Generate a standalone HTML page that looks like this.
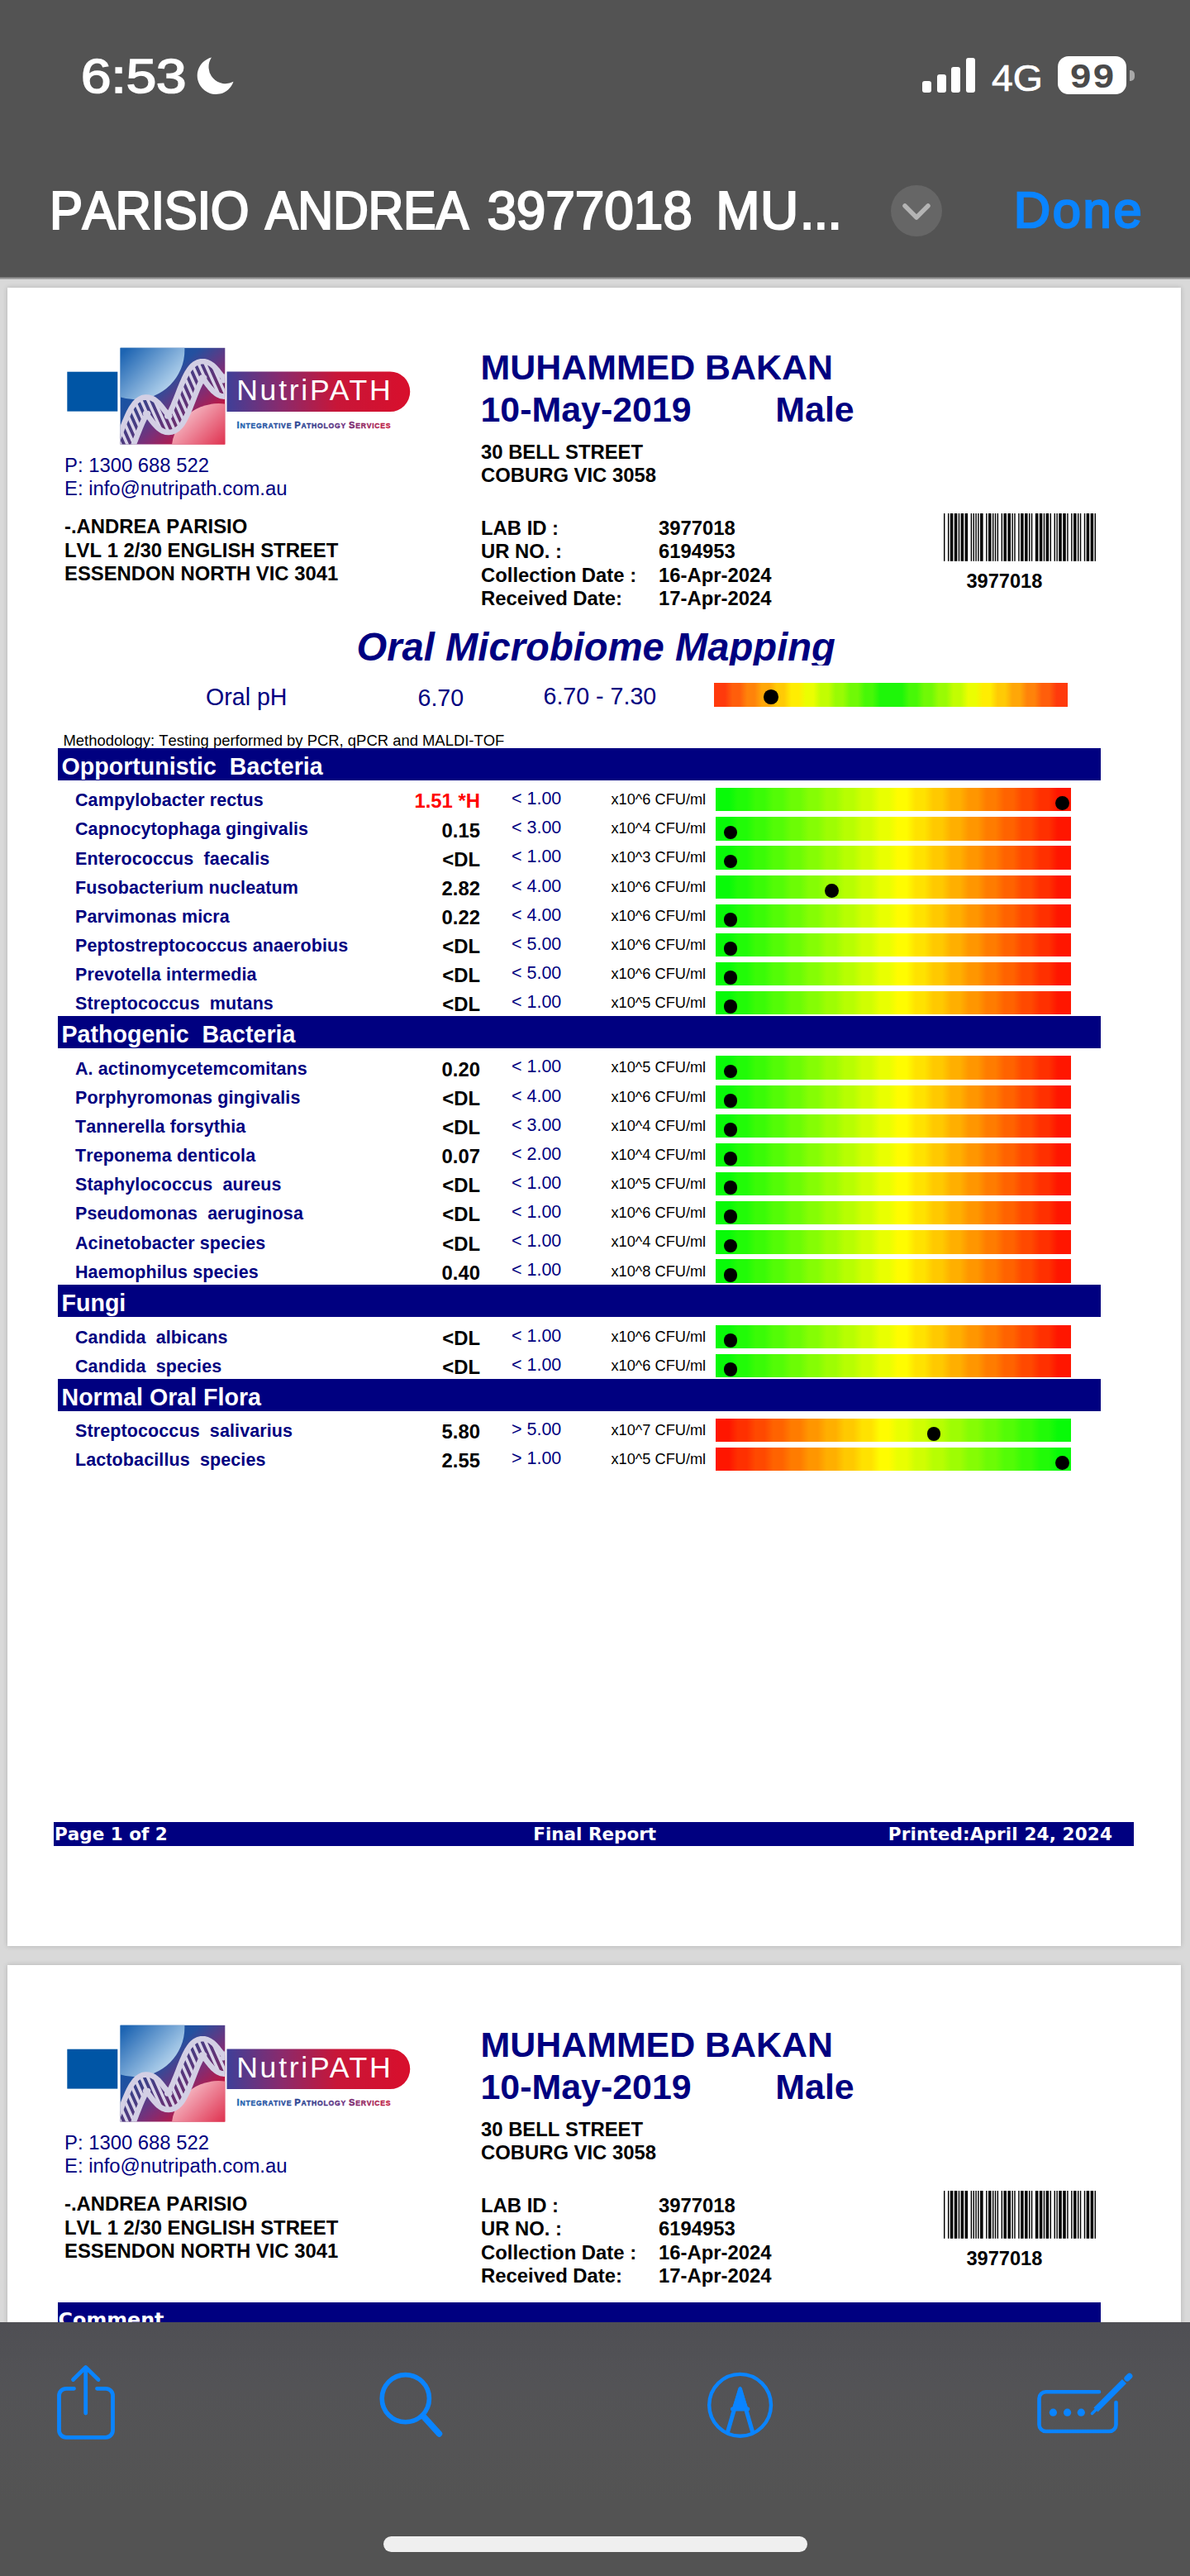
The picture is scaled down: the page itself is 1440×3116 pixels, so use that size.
<!DOCTYPE html>
<html><head><meta charset="utf-8"><title>PARISIO ANDREA 3977018</title>
<style>
html,body{margin:0;padding:0}
body{width:1440px;height:3116px;position:relative;overflow:hidden;background:#d9d9d9;font-family:"Liberation Sans",sans-serif}
.t{position:absolute;white-space:pre;line-height:1;font-kerning:none !important}
.r{position:absolute}
.g1{background:linear-gradient(90deg,#08fa08 0.00%,#08fa08 3.75%,#21fb07 6.25%,#21fb07 8.75%,#3afb06 11.25%,#3afb06 13.75%,#53fc06 16.25%,#53fc06 18.75%,#6cfc05 21.25%,#6cfc05 23.75%,#85fd04 26.25%,#85fd04 28.75%,#9efd03 31.25%,#9efd03 33.75%,#b7fe02 36.25%,#b7fe02 38.75%,#d0fe02 41.25%,#d0fe02 43.75%,#e9ff01 46.25%,#e9ff01 48.75%,#fffc00 51.25%,#fffc00 53.75%,#ffe200 56.25%,#ffe200 58.75%,#ffc900 61.25%,#ffc900 63.75%,#ffaf00 66.25%,#ffaf00 68.75%,#ff9600 71.25%,#ff9600 73.75%,#ff7c00 76.25%,#ff7c00 78.75%,#ff6300 81.25%,#ff6300 83.75%,#ff4900 86.25%,#ff4900 88.75%,#ff3000 91.25%,#ff3000 93.75%,#ff1600 96.25%,#ff1600 100.00%)}
.g2{background:linear-gradient(270deg,#08fa08 0.00%,#08fa08 3.75%,#21fb07 6.25%,#21fb07 8.75%,#3afb06 11.25%,#3afb06 13.75%,#53fc06 16.25%,#53fc06 18.75%,#6cfc05 21.25%,#6cfc05 23.75%,#85fd04 26.25%,#85fd04 28.75%,#9efd03 31.25%,#9efd03 33.75%,#b7fe02 36.25%,#b7fe02 38.75%,#d0fe02 41.25%,#d0fe02 43.75%,#e9ff01 46.25%,#e9ff01 48.75%,#fffc00 51.25%,#fffc00 53.75%,#ffe200 56.25%,#ffe200 58.75%,#ffc900 61.25%,#ffc900 63.75%,#ffaf00 66.25%,#ffaf00 68.75%,#ff9600 71.25%,#ff9600 73.75%,#ff7c00 76.25%,#ff7c00 78.75%,#ff6300 81.25%,#ff6300 83.75%,#ff4900 86.25%,#ff4900 88.75%,#ff3000 91.25%,#ff3000 93.75%,#ff1600 96.25%,#ff1600 100.00%)}
.gp{background:linear-gradient(90deg,#ff3a0c 0.00%,#ff3a0c 3.12%,#ff5e0b 5.21%,#ff5e0b 7.29%,#ff830a 9.38%,#ff830a 11.46%,#ffa708 13.54%,#ffa708 15.62%,#ffca05 17.71%,#ffca05 19.79%,#ffed02 21.88%,#ffed02 23.96%,#ebfe01 26.04%,#ebfe01 28.12%,#c2fd02 30.21%,#c2fd02 32.29%,#99fb04 34.38%,#99fb04 36.46%,#70f906 38.54%,#70f906 40.62%,#47f807 42.71%,#47f807 44.79%,#1ef609 46.88%,#1ef609 48.96%,#1ef609 51.04%,#1ef609 53.12%,#47f807 55.21%,#47f807 57.29%,#70f906 59.38%,#70f906 61.46%,#99fb04 63.54%,#99fb04 65.62%,#c2fd02 67.71%,#c2fd02 69.79%,#ebfe01 71.88%,#ebfe01 73.96%,#ffed02 76.04%,#ffed02 78.12%,#ffca05 80.21%,#ffca05 82.29%,#ffa708 84.38%,#ffa708 86.46%,#ff830a 88.54%,#ff830a 90.62%,#ff5e0b 92.71%,#ff5e0b 94.79%,#ff3a0c 96.88%,#ff3a0c 100.00%)}
.bar{left:866.2px;width:429.4px;height:28.3px}
.sec{position:absolute;left:70px;width:1261.6px;height:39px;background:#000080;overflow:hidden}
.st{left:4.5px;top:8.2px;font:bold 28.6px/1 'Liberation Sans',sans-serif;color:#fff}
.page{position:absolute;left:9px;width:1420px;background:#fff;box-shadow:0 0 6px rgba(0,0,0,.18)}
</style></head><body>
<div class="page" style="top:348px;height:2006px"></div>
<div class="page" style="top:2377px;height:760px"></div>
<div class="r" style="left:0;top:0px;width:0;height:0">
<svg class="r" style="left:78px;top:418px" width="424" height="124" viewBox="78 418 424 124">
<defs>
<linearGradient id="gsq" x1="0" y1="0" x2="1" y2="1"><stop offset="0" stop-color="#0055a8"/><stop offset=".38" stop-color="#24509f"/><stop offset=".6" stop-color="#7a2f78"/><stop offset=".8" stop-color="#c4153f"/><stop offset="1" stop-color="#d80f2c"/></linearGradient>
<linearGradient id="gpill" x1="0" y1="0" x2="1" y2="0"><stop offset="0" stop-color="#3f3f98"/><stop offset=".3" stop-color="#8a2a6c"/><stop offset=".6" stop-color="#c81638"/><stop offset="1" stop-color="#d80f2c"/></linearGradient>
<linearGradient id="gtxt" gradientUnits="userSpaceOnUse" x1="287" y1="0" x2="472" y2="0"><stop offset="0" stop-color="#1f5fae"/><stop offset=".45" stop-color="#2b3d8e"/><stop offset=".7" stop-color="#6a2c7c"/><stop offset="1" stop-color="#c21a3c"/></linearGradient>
<linearGradient id="gb" x1="0" y1="0" x2="1" y2="1"><stop offset="0" stop-color="#0a58aa"/><stop offset=".45" stop-color="#1d64b2"/><stop offset=".8" stop-color="#9cc2e4"/><stop offset="1" stop-color="#e4f0fa"/></linearGradient>
<linearGradient id="gr" x1="0" y1="0" x2="1" y2="1"><stop offset="0" stop-color="#fbe4e8"/><stop offset=".25" stop-color="#ee8a9c"/><stop offset=".55" stop-color="#dc2040"/><stop offset="1" stop-color="#d40c2a"/></linearGradient>
<clipPath id="clobe"><path d="M134.6 566.3 L137.4 566.4 L141.3 565.5 L144.8 563.8 L147.6 561.7 L150.0 559.2 L152.1 556.6 L154.0 553.7 L155.8 550.6 L157.5 547.3 L159.1 543.8 L160.7 540.1 L162.3 536.4 L163.8 532.5 L165.3 528.6 L166.8 524.8 L168.3 521.0 L169.8 517.3 L171.2 513.9 L172.6 510.7 L174.0 507.8 L175.3 505.3 L176.5 503.2 L177.5 501.6 L178.4 500.6 L178.9 500.1 L178.9 500.1 L178.4 500.3 L177.4 500.4 L176.5 500.4 L176.0 500.2 L176.0 500.3 L176.6 500.7 L177.4 501.5 L178.5 502.7 L179.8 504.1 L181.1 505.8 L182.6 507.7 L184.1 509.7 L185.7 511.8 L187.5 513.8 L189.4 515.9 L191.5 517.9 L193.9 519.7 L196.7 521.4 L200.2 522.6 L204.1 523.0 L208.1 522.5 L211.7 521.1 L214.7 519.1 L217.3 516.7 L219.5 514.1 L221.4 511.3 L223.2 508.3 L224.9 505.0 L226.6 501.6 L228.2 498.0 L229.8 494.2 L231.3 490.4 L232.8 486.5 L234.3 482.7 L235.8 478.8 L237.3 475.1 L238.7 471.6 L240.1 468.3 L241.5 465.3 L242.8 462.7 L244.1 460.5 L245.2 458.7 L246.1 457.5 L246.8 456.8 L247.0 456.6 L246.6 456.8 L245.7 457.0 L244.7 457.0 L244.1 456.9 L244.0 456.8 L244.4 457.1 L245.1 457.8 L246.1 458.9 L247.3 460.2 L248.7 461.9 L250.1 463.7 L251.6 465.7 L253.2 467.7 L254.9 469.8 L256.7 471.8 L258.7 473.8 L261.0 475.7 L263.7 477.5 L267.0 478.9 L270.7 479.6 L274.8 479.4 L278.5 478.3 L281.8 476.4 L284.5 474.1 L286.8 471.6 L288.8 468.9 L290.6 465.9 L292.4 462.7 L294.0 459.5 L276.0 450.7 L274.6 453.5 L273.4 455.8 L272.2 457.7 L271.2 459.0 L270.5 459.8 L270.2 460.1 L270.5 460.0 L271.2 459.7 L272.3 459.7 L273.0 459.8 L273.3 459.9 L273.0 459.7 L272.3 459.1 L271.3 458.1 L270.1 456.8 L268.8 455.2 L267.4 453.4 L265.9 451.5 L264.3 449.4 L262.7 447.4 L260.9 445.3 L258.9 443.3 L256.6 441.4 L254.0 439.6 L250.9 438.1 L247.3 437.2 L243.3 437.2 L239.4 438.2 L236.0 439.9 L233.2 442.1 L230.9 444.6 L228.8 447.3 L226.9 450.2 L225.2 453.3 L223.5 456.7 L221.9 460.2 L220.3 463.9 L218.7 467.7 L217.2 471.5 L215.7 475.4 L214.2 479.3 L212.7 483.0 L211.2 486.6 L209.8 490.1 L208.4 493.2 L207.1 496.0 L205.8 498.5 L204.6 500.5 L203.5 502.0 L202.7 503.0 L202.3 503.4 L202.3 503.4 L202.9 503.2 L203.9 503.0 L204.8 503.1 L205.3 503.3 L205.1 503.2 L204.5 502.7 L203.6 501.9 L202.5 500.6 L201.3 499.1 L199.9 497.4 L198.4 495.5 L196.9 493.5 L195.2 491.4 L193.5 489.4 L191.6 487.3 L189.4 485.4 L187.0 483.5 L184.0 481.9 L180.5 480.8 L176.6 480.5 L172.6 481.1 L169.1 482.7 L166.1 484.7 L163.6 487.1 L161.5 489.8 L159.5 492.6 L157.7 495.7 L156.0 498.9 L154.4 502.4 L152.8 506.0 L151.2 509.8 L149.7 513.6 L148.2 517.5 L146.7 521.4 L145.2 525.2 L143.7 528.8 L142.3 532.3 L140.9 535.6 L139.5 538.5 L138.2 541.1 L137.0 543.3 L135.9 545.0 L135.0 546.1 L134.4 546.7 L134.2 546.9 L134.7 546.7 L135.6 546.5 L135.4 546.4Z"/></clipPath>
<clipPath id="csq"><rect x="145.6" y="420.8" width="126.7" height="116.7"/></clipPath>
</defs>
<g id="lg">
<rect x="81.3" y="449.7" width="61" height="47.9" fill="#0055a5"/>
<rect x="145.6" y="420.8" width="126.7" height="116.7" fill="url(#gsq)"/>
<g clip-path="url(#csq)">
<circle cx="163.6" cy="423.4" r="59.8" fill="url(#gb)"/>
<circle cx="264.5" cy="545" r="57" fill="url(#gr)"/>
<path d="M134.6 566.3 L137.4 566.4 L141.3 565.5 L144.8 563.8 L147.6 561.7 L150.0 559.2 L152.1 556.6 L154.0 553.7 L155.8 550.6 L157.5 547.3 L159.1 543.8 L160.7 540.1 L162.3 536.4 L163.8 532.5 L165.3 528.6 L166.8 524.8 L168.3 521.0 L169.8 517.3 L171.2 513.9 L172.6 510.7 L174.0 507.8 L175.3 505.3 L176.5 503.2 L177.5 501.6 L178.4 500.6 L178.9 500.1 L178.9 500.1 L178.4 500.3 L177.4 500.4 L176.5 500.4 L176.0 500.2 L176.0 500.3 L176.6 500.7 L177.4 501.5 L178.5 502.7 L179.8 504.1 L181.1 505.8 L182.6 507.7 L184.1 509.7 L185.7 511.8 L187.5 513.8 L189.4 515.9 L191.5 517.9 L193.9 519.7 L196.7 521.4 L200.2 522.6 L204.1 523.0 L208.1 522.5 L211.7 521.1 L214.7 519.1 L217.3 516.7 L219.5 514.1 L221.4 511.3 L223.2 508.3 L224.9 505.0 L226.6 501.6 L228.2 498.0 L229.8 494.2 L231.3 490.4 L232.8 486.5 L234.3 482.7 L235.8 478.8 L237.3 475.1 L238.7 471.6 L240.1 468.3 L241.5 465.3 L242.8 462.7 L244.1 460.5 L245.2 458.7 L246.1 457.5 L246.8 456.8 L247.0 456.6 L246.6 456.8 L245.7 457.0 L244.7 457.0 L244.1 456.9 L244.0 456.8 L244.4 457.1 L245.1 457.8 L246.1 458.9 L247.3 460.2 L248.7 461.9 L250.1 463.7 L251.6 465.7 L253.2 467.7 L254.9 469.8 L256.7 471.8 L258.7 473.8 L261.0 475.7 L263.7 477.5 L267.0 478.9 L270.7 479.6 L274.8 479.4 L278.5 478.3 L281.8 476.4 L284.5 474.1 L286.8 471.6 L288.8 468.9 L290.6 465.9 L292.4 462.7 L294.0 459.5 L276.0 450.7 L274.6 453.5 L273.4 455.8 L272.2 457.7 L271.2 459.0 L270.5 459.8 L270.2 460.1 L270.5 460.0 L271.2 459.7 L272.3 459.7 L273.0 459.8 L273.3 459.9 L273.0 459.7 L272.3 459.1 L271.3 458.1 L270.1 456.8 L268.8 455.2 L267.4 453.4 L265.9 451.5 L264.3 449.4 L262.7 447.4 L260.9 445.3 L258.9 443.3 L256.6 441.4 L254.0 439.6 L250.9 438.1 L247.3 437.2 L243.3 437.2 L239.4 438.2 L236.0 439.9 L233.2 442.1 L230.9 444.6 L228.8 447.3 L226.9 450.2 L225.2 453.3 L223.5 456.7 L221.9 460.2 L220.3 463.9 L218.7 467.7 L217.2 471.5 L215.7 475.4 L214.2 479.3 L212.7 483.0 L211.2 486.6 L209.8 490.1 L208.4 493.2 L207.1 496.0 L205.8 498.5 L204.6 500.5 L203.5 502.0 L202.7 503.0 L202.3 503.4 L202.3 503.4 L202.9 503.2 L203.9 503.0 L204.8 503.1 L205.3 503.3 L205.1 503.2 L204.5 502.7 L203.6 501.9 L202.5 500.6 L201.3 499.1 L199.9 497.4 L198.4 495.5 L196.9 493.5 L195.2 491.4 L193.5 489.4 L191.6 487.3 L189.4 485.4 L187.0 483.5 L184.0 481.9 L180.5 480.8 L176.6 480.5 L172.6 481.1 L169.1 482.7 L166.1 484.7 L163.6 487.1 L161.5 489.8 L159.5 492.6 L157.7 495.7 L156.0 498.9 L154.4 502.4 L152.8 506.0 L151.2 509.8 L149.7 513.6 L148.2 517.5 L146.7 521.4 L145.2 525.2 L143.7 528.8 L142.3 532.3 L140.9 535.6 L139.5 538.5 L138.2 541.1 L137.0 543.3 L135.9 545.0 L135.0 546.1 L134.4 546.7 L134.2 546.9 L134.7 546.7 L135.6 546.5 L135.4 546.4Z" fill="#4a3678" opacity=".55"/>
<path d="M430.6 249.0L528.2 468.2M423.8 252.0L521.5 471.2M417.1 255.0L514.7 474.3M410.3 258.0L507.9 477.3M403.6 261.0L501.2 480.3M396.8 264.0L494.4 483.3M390.0 267.0L487.7 486.3M383.3 270.0L480.9 489.3M376.5 273.1L474.1 492.3M369.8 276.1L467.4 495.3M363.0 279.1L460.6 498.3M356.2 282.1L453.9 501.3M349.5 285.1L447.1 504.3M342.7 288.1L440.3 507.4M336.0 291.1L433.6 510.4M329.2 294.1L426.8 513.4M322.4 297.1L420.1 516.4M315.7 300.1L413.3 519.4M308.9 303.2L406.5 522.4M302.2 306.2L399.8 525.4M295.4 309.2L393.0 528.4M288.6 312.2L386.3 531.4M281.9 315.2L379.5 534.4M275.1 318.2L372.7 537.5M268.4 321.2L366.0 540.5M261.6 324.2L359.2 543.5M254.8 327.2L352.5 546.5M248.1 330.2L345.7 549.5M241.3 333.3L338.9 552.5M234.6 336.3L332.2 555.5M227.8 339.3L325.4 558.5M221.0 342.3L318.7 561.5M214.3 345.3L311.9 564.5M207.5 348.3L305.1 567.6M200.8 351.3L298.4 570.6M194.0 354.3L291.6 573.6M187.2 357.3L284.8 576.6M180.5 360.3L278.1 579.6M173.7 363.4L271.3 582.6M167.0 366.4L264.6 585.6M160.2 369.4L257.8 588.6M153.4 372.4L251.0 591.6M146.7 375.4L244.3 594.6M139.9 378.4L237.5 597.7M133.2 381.4L230.8 600.7M126.4 384.4L224.0 603.7M119.6 387.4L217.2 606.7M112.9 390.4L210.5 609.7M106.1 393.5L203.7 612.7M99.3 396.5L197.0 615.7M92.6 399.5L190.2 618.7M85.8 402.5L183.4 621.7M79.1 405.5L176.7 624.7M72.3 408.5L169.9 627.8M65.5 411.5L163.2 630.8M58.8 414.5L156.4 633.8M52.0 417.5L149.6 636.8M45.3 420.5L142.9 639.8M38.5 423.6L136.1 642.8M31.7 426.6L129.4 645.8M25.0 429.6L122.6 648.8M18.2 432.6L115.8 651.8M11.5 435.6L109.1 654.8M4.7 438.6L102.3 657.9M-2.1 441.6L95.6 660.9M-8.8 444.6L88.8 663.9M-15.6 447.6L82.0 666.9M-22.3 450.6L75.3 669.9M-29.1 453.7L68.5 672.9M-35.9 456.7L61.8 675.9M-42.6 459.7L55.0 678.9M-49.4 462.7L48.2 681.9M-56.1 465.7L41.5 684.9M-62.9 468.7L34.7 688.0M-69.7 471.7L28.0 691.0M-76.4 474.7L21.2 694.0M-83.2 477.7L14.4 697.0M-89.9 480.7L7.7 700.0M-96.7 483.7L0.9 703.0M-103.5 486.8L-5.8 706.0" stroke="#d9d4e8" stroke-width="3.6" fill="none" clip-path="url(#clobe)"/>
<path d="M134.6 566.3 L137.4 566.4 L141.3 565.5 L144.8 563.8 L147.6 561.7 L150.0 559.2 L152.1 556.6 L154.0 553.7 L155.8 550.6 L157.5 547.3 L159.1 543.8 L160.7 540.1 L162.3 536.4 L163.8 532.5 L165.3 528.6 L166.8 524.8 L168.3 521.0 L169.8 517.3 L171.2 513.9 L172.6 510.7 L174.0 507.8 L175.3 505.3 L176.5 503.2 L177.5 501.6 L178.4 500.6 L178.9 500.1 L178.9 500.1 L178.4 500.3 L177.4 500.4 L176.5 500.4 L176.0 500.2 L176.0 500.3 L176.6 500.7 L177.4 501.5 L178.5 502.7 L179.8 504.1 L181.1 505.8 L182.6 507.7 L184.1 509.7 L185.7 511.8 L187.5 513.8 L189.4 515.9 L191.5 517.9 L193.9 519.7 L196.7 521.4 L200.2 522.6 L204.1 523.0 L208.1 522.5 L211.7 521.1 L214.7 519.1 L217.3 516.7 L219.5 514.1 L221.4 511.3 L223.2 508.3 L224.9 505.0 L226.6 501.6 L228.2 498.0 L229.8 494.2 L231.3 490.4 L232.8 486.5 L234.3 482.7 L235.8 478.8 L237.3 475.1 L238.7 471.6 L240.1 468.3 L241.5 465.3 L242.8 462.7 L244.1 460.5 L245.2 458.7 L246.1 457.5 L246.8 456.8 L247.0 456.6 L246.6 456.8 L245.7 457.0 L244.7 457.0 L244.1 456.9 L244.0 456.8 L244.4 457.1 L245.1 457.8 L246.1 458.9 L247.3 460.2 L248.7 461.9 L250.1 463.7 L251.6 465.7 L253.2 467.7 L254.9 469.8 L256.7 471.8 L258.7 473.8 L261.0 475.7 L263.7 477.5 L267.0 478.9 L270.7 479.6 L274.8 479.4 L278.5 478.3 L281.8 476.4 L284.5 474.1 L286.8 471.6 L288.8 468.9 L290.6 465.9 L292.4 462.7 L294.0 459.5" stroke="#d3cfe4" stroke-width="6.6" fill="none" stroke-linejoin="round"/>
<path d="M135.4 546.4 L135.6 546.5 L134.7 546.7 L134.2 546.9 L134.4 546.7 L135.0 546.1 L135.9 545.0 L137.0 543.3 L138.2 541.1 L139.5 538.5 L140.9 535.6 L142.3 532.3 L143.7 528.8 L145.2 525.2 L146.7 521.4 L148.2 517.5 L149.7 513.6 L151.2 509.8 L152.8 506.0 L154.4 502.4 L156.0 498.9 L157.7 495.7 L159.5 492.6 L161.5 489.8 L163.6 487.1 L166.1 484.7 L169.1 482.7 L172.6 481.1 L176.6 480.5 L180.5 480.8 L184.0 481.9 L187.0 483.5 L189.4 485.4 L191.6 487.3 L193.5 489.4 L195.2 491.4 L196.9 493.5 L198.4 495.5 L199.9 497.4 L201.3 499.1 L202.5 500.6 L203.6 501.9 L204.5 502.7 L205.1 503.2 L205.3 503.3 L204.8 503.1 L203.9 503.0 L202.9 503.2 L202.3 503.4 L202.3 503.4 L202.7 503.0 L203.5 502.0 L204.6 500.5 L205.8 498.5 L207.1 496.0 L208.4 493.2 L209.8 490.1 L211.2 486.6 L212.7 483.0 L214.2 479.3 L215.7 475.4 L217.2 471.5 L218.7 467.7 L220.3 463.9 L221.9 460.2 L223.5 456.7 L225.2 453.3 L226.9 450.2 L228.8 447.3 L230.9 444.6 L233.2 442.1 L236.0 439.9 L239.4 438.2 L243.3 437.2 L247.3 437.2 L250.9 438.1 L254.0 439.6 L256.6 441.4 L258.9 443.3 L260.9 445.3 L262.7 447.4 L264.3 449.4 L265.9 451.5 L267.4 453.4 L268.8 455.2 L270.1 456.8 L271.3 458.1 L272.3 459.1 L273.0 459.7 L273.3 459.9 L273.0 459.8 L272.3 459.7 L271.2 459.7 L270.5 460.0 L270.2 460.1 L270.5 459.8 L271.2 459.0 L272.2 457.7 L273.4 455.8 L274.6 453.5 L276.0 450.7" stroke="#d3cfe4" stroke-width="6.6" fill="none" stroke-linejoin="round"/>
</g>
<path d="M274.5 449.5H472a24.25 24.25 0 0 1 0 48.5H274.5z" fill="url(#gpill)"/>
<text x="286.2" y="484.4" font-family="Liberation Sans,sans-serif" font-size="35.6" fill="#fff" textLength="186.5" lengthAdjust="spacing">NutriPATH</text>
<text x="286.6" y="518.1" font-family="Liberation Sans,sans-serif" font-weight="bold" font-size="8.6" fill="url(#gtxt)" stroke="url(#gtxt)" stroke-width=".35" textLength="186" lengthAdjust="spacing"><tspan font-size="11.2">I</tspan>NTEGRATIVE <tspan font-size="11.2">P</tspan>ATHOLOGY <tspan font-size="11.2">S</tspan>ERVICES</text>
</g>
</svg>
</div>
<div class="t" style="top:550.81px;font:23.85px/1 'Liberation Sans',sans-serif;color:#000080;left:78.00px;">P: 1300 688 522</div>
<div class="t" style="top:578.81px;font:23.85px/1 'Liberation Sans',sans-serif;color:#000080;left:78.00px;">E: info@nutripath.com.au</div>
<div class="t" style="top:624.81px;font:bold 23.85px/1 'Liberation Sans',sans-serif;color:#000;left:78.00px;">-.ANDREA PARISIO</div>
<div class="t" style="top:653.51px;font:bold 23.85px/1 'Liberation Sans',sans-serif;color:#000;left:78.00px;">LVL 1 2/30 ENGLISH STREET</div>
<div class="t" style="top:682.21px;font:bold 23.85px/1 'Liberation Sans',sans-serif;color:#000;left:78.00px;">ESSENDON NORTH VIC 3041</div>
<div class="t" style="top:422.89px;font:bold 42.90px/1 'Liberation Sans',sans-serif;color:#000080;left:581.50px;">MUHAMMED BAKAN</div>
<div class="t" style="top:474.49px;font:bold 42.90px/1 'Liberation Sans',sans-serif;color:#000080;left:581.50px;">10-May-2019</div>
<div class="t" style="top:474.49px;font:bold 42.90px/1 'Liberation Sans',sans-serif;color:#000080;left:938.30px;">Male</div>
<div class="t" style="top:534.81px;font:bold 23.85px/1 'Liberation Sans',sans-serif;color:#000;left:582.00px;">30 BELL STREET</div>
<div class="t" style="top:562.61px;font:bold 23.85px/1 'Liberation Sans',sans-serif;color:#000;left:582.00px;">COBURG VIC 3058</div>
<div class="t" style="top:626.61px;font:bold 23.85px/1 'Liberation Sans',sans-serif;color:#000;left:582.00px;">LAB ID :</div>
<div class="t" style="top:626.61px;font:bold 23.85px/1 'Liberation Sans',sans-serif;color:#000;left:797.00px;">3977018</div>
<div class="t" style="top:655.21px;font:bold 23.85px/1 'Liberation Sans',sans-serif;color:#000;left:582.00px;">UR NO. :</div>
<div class="t" style="top:655.21px;font:bold 23.85px/1 'Liberation Sans',sans-serif;color:#000;left:797.00px;">6194953</div>
<div class="t" style="top:683.81px;font:bold 23.85px/1 'Liberation Sans',sans-serif;color:#000;left:582.00px;">Collection Date :</div>
<div class="t" style="top:683.81px;font:bold 23.85px/1 'Liberation Sans',sans-serif;color:#000;left:797.00px;">16-Apr-2024</div>
<div class="t" style="top:712.41px;font:bold 23.85px/1 'Liberation Sans',sans-serif;color:#000;left:582.00px;">Received Date:</div>
<div class="t" style="top:712.41px;font:bold 23.85px/1 'Liberation Sans',sans-serif;color:#000;left:797.00px;">17-Apr-2024</div>
<svg class="r" style="left:1141.80px;top:621.20px" width="184.00" height="57.80" fill="#000"><rect x="0.00" y="0" width="1.42" height="57.80"/><rect x="4.97" y="0" width="1.42" height="57.80"/><rect x="7.81" y="0" width="3.55" height="57.80"/><rect x="12.79" y="0" width="3.55" height="57.80"/><rect x="17.76" y="0" width="1.42" height="57.80"/><rect x="20.60" y="0" width="3.55" height="57.80"/><rect x="25.58" y="0" width="3.55" height="57.80"/><rect x="32.68" y="0" width="1.42" height="57.80"/><rect x="35.52" y="0" width="1.42" height="57.80"/><rect x="38.36" y="0" width="1.42" height="57.80"/><rect x="41.20" y="0" width="1.42" height="57.80"/><rect x="44.05" y="0" width="3.55" height="57.80"/><rect x="51.15" y="0" width="1.42" height="57.80"/><rect x="53.99" y="0" width="3.55" height="57.80"/><rect x="58.97" y="0" width="1.42" height="57.80"/><rect x="61.81" y="0" width="1.42" height="57.80"/><rect x="64.65" y="0" width="1.42" height="57.80"/><rect x="69.62" y="0" width="1.42" height="57.80"/><rect x="72.46" y="0" width="3.55" height="57.80"/><rect x="77.44" y="0" width="3.55" height="57.80"/><rect x="82.41" y="0" width="1.42" height="57.80"/><rect x="85.25" y="0" width="1.42" height="57.80"/><rect x="90.22" y="0" width="1.42" height="57.80"/><rect x="93.07" y="0" width="3.55" height="57.80"/><rect x="98.04" y="0" width="3.55" height="57.80"/><rect x="103.01" y="0" width="1.42" height="57.80"/><rect x="105.85" y="0" width="1.42" height="57.80"/><rect x="110.83" y="0" width="3.55" height="57.80"/><rect x="115.80" y="0" width="3.55" height="57.80"/><rect x="120.77" y="0" width="1.42" height="57.80"/><rect x="123.61" y="0" width="3.55" height="57.80"/><rect x="128.59" y="0" width="1.42" height="57.80"/><rect x="133.56" y="0" width="1.42" height="57.80"/><rect x="136.40" y="0" width="1.42" height="57.80"/><rect x="139.24" y="0" width="3.55" height="57.80"/><rect x="144.22" y="0" width="3.55" height="57.80"/><rect x="149.19" y="0" width="1.42" height="57.80"/><rect x="154.16" y="0" width="1.42" height="57.80"/><rect x="157.00" y="0" width="3.55" height="57.80"/><rect x="161.98" y="0" width="1.42" height="57.80"/><rect x="164.82" y="0" width="1.42" height="57.80"/><rect x="169.79" y="0" width="1.42" height="57.80"/><rect x="172.63" y="0" width="3.55" height="57.80"/><rect x="177.61" y="0" width="3.55" height="57.80"/><rect x="182.58" y="0" width="1.42" height="57.80"/></svg>
<div class="t" style="top:692.12px;font:bold 23.60px/1 'Liberation Sans',sans-serif;color:#000;left:1169.50px;">3977018</div>
<div class="r" style="left:0;top:2029px;width:0;height:0">
<svg class="r" style="left:78px;top:418px" width="424" height="124" viewBox="78 418 424 124"><use href="#lg"/></svg>
</div>
<div class="t" style="top:2579.81px;font:23.85px/1 'Liberation Sans',sans-serif;color:#000080;left:78.00px;">P: 1300 688 522</div>
<div class="t" style="top:2607.81px;font:23.85px/1 'Liberation Sans',sans-serif;color:#000080;left:78.00px;">E: info@nutripath.com.au</div>
<div class="t" style="top:2653.81px;font:bold 23.85px/1 'Liberation Sans',sans-serif;color:#000;left:78.00px;">-.ANDREA PARISIO</div>
<div class="t" style="top:2682.51px;font:bold 23.85px/1 'Liberation Sans',sans-serif;color:#000;left:78.00px;">LVL 1 2/30 ENGLISH STREET</div>
<div class="t" style="top:2711.21px;font:bold 23.85px/1 'Liberation Sans',sans-serif;color:#000;left:78.00px;">ESSENDON NORTH VIC 3041</div>
<div class="t" style="top:2451.89px;font:bold 42.90px/1 'Liberation Sans',sans-serif;color:#000080;left:581.50px;">MUHAMMED BAKAN</div>
<div class="t" style="top:2503.49px;font:bold 42.90px/1 'Liberation Sans',sans-serif;color:#000080;left:581.50px;">10-May-2019</div>
<div class="t" style="top:2503.49px;font:bold 42.90px/1 'Liberation Sans',sans-serif;color:#000080;left:938.30px;">Male</div>
<div class="t" style="top:2563.81px;font:bold 23.85px/1 'Liberation Sans',sans-serif;color:#000;left:582.00px;">30 BELL STREET</div>
<div class="t" style="top:2591.61px;font:bold 23.85px/1 'Liberation Sans',sans-serif;color:#000;left:582.00px;">COBURG VIC 3058</div>
<div class="t" style="top:2655.61px;font:bold 23.85px/1 'Liberation Sans',sans-serif;color:#000;left:582.00px;">LAB ID :</div>
<div class="t" style="top:2655.61px;font:bold 23.85px/1 'Liberation Sans',sans-serif;color:#000;left:797.00px;">3977018</div>
<div class="t" style="top:2684.21px;font:bold 23.85px/1 'Liberation Sans',sans-serif;color:#000;left:582.00px;">UR NO. :</div>
<div class="t" style="top:2684.21px;font:bold 23.85px/1 'Liberation Sans',sans-serif;color:#000;left:797.00px;">6194953</div>
<div class="t" style="top:2712.81px;font:bold 23.85px/1 'Liberation Sans',sans-serif;color:#000;left:582.00px;">Collection Date :</div>
<div class="t" style="top:2712.81px;font:bold 23.85px/1 'Liberation Sans',sans-serif;color:#000;left:797.00px;">16-Apr-2024</div>
<div class="t" style="top:2741.41px;font:bold 23.85px/1 'Liberation Sans',sans-serif;color:#000;left:582.00px;">Received Date:</div>
<div class="t" style="top:2741.41px;font:bold 23.85px/1 'Liberation Sans',sans-serif;color:#000;left:797.00px;">17-Apr-2024</div>
<svg class="r" style="left:1141.80px;top:2650.20px" width="184.00" height="57.80" fill="#000"><rect x="0.00" y="0" width="1.42" height="57.80"/><rect x="4.97" y="0" width="1.42" height="57.80"/><rect x="7.81" y="0" width="3.55" height="57.80"/><rect x="12.79" y="0" width="3.55" height="57.80"/><rect x="17.76" y="0" width="1.42" height="57.80"/><rect x="20.60" y="0" width="3.55" height="57.80"/><rect x="25.58" y="0" width="3.55" height="57.80"/><rect x="32.68" y="0" width="1.42" height="57.80"/><rect x="35.52" y="0" width="1.42" height="57.80"/><rect x="38.36" y="0" width="1.42" height="57.80"/><rect x="41.20" y="0" width="1.42" height="57.80"/><rect x="44.05" y="0" width="3.55" height="57.80"/><rect x="51.15" y="0" width="1.42" height="57.80"/><rect x="53.99" y="0" width="3.55" height="57.80"/><rect x="58.97" y="0" width="1.42" height="57.80"/><rect x="61.81" y="0" width="1.42" height="57.80"/><rect x="64.65" y="0" width="1.42" height="57.80"/><rect x="69.62" y="0" width="1.42" height="57.80"/><rect x="72.46" y="0" width="3.55" height="57.80"/><rect x="77.44" y="0" width="3.55" height="57.80"/><rect x="82.41" y="0" width="1.42" height="57.80"/><rect x="85.25" y="0" width="1.42" height="57.80"/><rect x="90.22" y="0" width="1.42" height="57.80"/><rect x="93.07" y="0" width="3.55" height="57.80"/><rect x="98.04" y="0" width="3.55" height="57.80"/><rect x="103.01" y="0" width="1.42" height="57.80"/><rect x="105.85" y="0" width="1.42" height="57.80"/><rect x="110.83" y="0" width="3.55" height="57.80"/><rect x="115.80" y="0" width="3.55" height="57.80"/><rect x="120.77" y="0" width="1.42" height="57.80"/><rect x="123.61" y="0" width="3.55" height="57.80"/><rect x="128.59" y="0" width="1.42" height="57.80"/><rect x="133.56" y="0" width="1.42" height="57.80"/><rect x="136.40" y="0" width="1.42" height="57.80"/><rect x="139.24" y="0" width="3.55" height="57.80"/><rect x="144.22" y="0" width="3.55" height="57.80"/><rect x="149.19" y="0" width="1.42" height="57.80"/><rect x="154.16" y="0" width="1.42" height="57.80"/><rect x="157.00" y="0" width="3.55" height="57.80"/><rect x="161.98" y="0" width="1.42" height="57.80"/><rect x="164.82" y="0" width="1.42" height="57.80"/><rect x="169.79" y="0" width="1.42" height="57.80"/><rect x="172.63" y="0" width="3.55" height="57.80"/><rect x="177.61" y="0" width="3.55" height="57.80"/><rect x="182.58" y="0" width="1.42" height="57.80"/></svg>
<div class="t" style="top:2721.12px;font:bold 23.60px/1 'Liberation Sans',sans-serif;color:#000;left:1169.50px;">3977018</div>
<div class="t" style="top:758.95px;font:italic bold 47.20px/1 'Liberation Sans',sans-serif;color:#000080;left:431.50px;height:46px;overflow:hidden;padding-right:6px;">Oral Microbiome Mapping</div>
<div class="t" style="top:828.79px;font:28.60px/1 'Liberation Sans',sans-serif;color:#000080;left:249.00px;">Oral pH</div>
<div class="t" style="top:830.39px;font:28.60px/1 'Liberation Sans',sans-serif;color:#000080;left:505.50px;">6.70</div>
<div class="t" style="top:827.79px;font:28.60px/1 'Liberation Sans',sans-serif;color:#000080;left:657.50px;">6.70 - 7.30</div>
<div class="r gp" style="left:864px;top:826.1px;width:427.7px;height:28.5px"></div>
<div class="r" style="left:924.00px;top:834.10px;width:17.6px;height:17.6px;border-radius:50%;background:#000"></div>
<div class="t" style="top:886.98px;font:18.45px/1 'Liberation Sans',sans-serif;color:#000;left:76.50px;">Methodology: Testing performed by PCR, qPCR and MALDI-TOF</div>
<div class="sec" style="top:904.90px"><div class="t st">Opportunistic  Bacteria</div></div>
<div class="t" style="top:958.33px;font:bold 21.47px/1 'Liberation Sans',sans-serif;color:#000080;left:91.00px;letter-spacing:.12px;">Campylobacter rectus</div>
<div class="t" style="top:957.41px;font:bold 23.85px/1 'Liberation Sans',sans-serif;color:#f00;right:859.00px;">1.51 *H</div>
<div class="t" style="top:956.13px;font:21.47px/1 'Liberation Sans',sans-serif;color:#000080;left:619.00px;">&lt; 1.00</div>
<div class="t" style="top:958.19px;font:18.20px/1 'Liberation Sans',sans-serif;color:#000;left:739.50px;">x10^6 CFU/ml</div>
<div class="r bar g1" style="top:953.10px"></div>
<div class="r" style="left:1277.00px;top:963.40px;width:16.8px;height:16.8px;border-radius:50%;background:#000"></div>
<div class="t" style="top:993.48px;font:bold 21.47px/1 'Liberation Sans',sans-serif;color:#000080;left:91.00px;letter-spacing:.12px;">Capnocytophaga gingivalis</div>
<div class="t" style="top:992.56px;font:bold 23.85px/1 'Liberation Sans',sans-serif;color:#000;right:859.00px;">0.15</div>
<div class="t" style="top:991.28px;font:21.47px/1 'Liberation Sans',sans-serif;color:#000080;left:619.00px;">&lt; 3.00</div>
<div class="t" style="top:993.34px;font:18.20px/1 'Liberation Sans',sans-serif;color:#000;left:739.50px;">x10^4 CFU/ml</div>
<div class="r bar g1" style="top:988.25px"></div>
<div class="r" style="left:875.60px;top:998.55px;width:16.8px;height:16.8px;border-radius:50%;background:#000"></div>
<div class="t" style="top:1028.63px;font:bold 21.47px/1 'Liberation Sans',sans-serif;color:#000080;left:91.00px;letter-spacing:.12px;">Enterococcus  faecalis</div>
<div class="t" style="top:1027.71px;font:bold 23.85px/1 'Liberation Sans',sans-serif;color:#000;right:859.00px;">&lt;DL</div>
<div class="t" style="top:1026.43px;font:21.47px/1 'Liberation Sans',sans-serif;color:#000080;left:619.00px;">&lt; 1.00</div>
<div class="t" style="top:1028.49px;font:18.20px/1 'Liberation Sans',sans-serif;color:#000;left:739.50px;">x10^3 CFU/ml</div>
<div class="r bar g1" style="top:1023.40px"></div>
<div class="r" style="left:875.60px;top:1033.70px;width:16.8px;height:16.8px;border-radius:50%;background:#000"></div>
<div class="t" style="top:1063.78px;font:bold 21.47px/1 'Liberation Sans',sans-serif;color:#000080;left:91.00px;letter-spacing:.12px;">Fusobacterium nucleatum</div>
<div class="t" style="top:1062.86px;font:bold 23.85px/1 'Liberation Sans',sans-serif;color:#000;right:859.00px;">2.82</div>
<div class="t" style="top:1061.58px;font:21.47px/1 'Liberation Sans',sans-serif;color:#000080;left:619.00px;">&lt; 4.00</div>
<div class="t" style="top:1063.64px;font:18.20px/1 'Liberation Sans',sans-serif;color:#000;left:739.50px;">x10^6 CFU/ml</div>
<div class="r bar g1" style="top:1058.55px"></div>
<div class="r" style="left:998.40px;top:1068.85px;width:16.8px;height:16.8px;border-radius:50%;background:#000"></div>
<div class="t" style="top:1098.93px;font:bold 21.47px/1 'Liberation Sans',sans-serif;color:#000080;left:91.00px;letter-spacing:.12px;">Parvimonas micra</div>
<div class="t" style="top:1098.01px;font:bold 23.85px/1 'Liberation Sans',sans-serif;color:#000;right:859.00px;">0.22</div>
<div class="t" style="top:1096.73px;font:21.47px/1 'Liberation Sans',sans-serif;color:#000080;left:619.00px;">&lt; 4.00</div>
<div class="t" style="top:1098.79px;font:18.20px/1 'Liberation Sans',sans-serif;color:#000;left:739.50px;">x10^6 CFU/ml</div>
<div class="r bar g1" style="top:1093.70px"></div>
<div class="r" style="left:875.60px;top:1104.00px;width:16.8px;height:16.8px;border-radius:50%;background:#000"></div>
<div class="t" style="top:1134.08px;font:bold 21.47px/1 'Liberation Sans',sans-serif;color:#000080;left:91.00px;letter-spacing:.12px;">Peptostreptococcus anaerobius</div>
<div class="t" style="top:1133.16px;font:bold 23.85px/1 'Liberation Sans',sans-serif;color:#000;right:859.00px;">&lt;DL</div>
<div class="t" style="top:1131.88px;font:21.47px/1 'Liberation Sans',sans-serif;color:#000080;left:619.00px;">&lt; 5.00</div>
<div class="t" style="top:1133.94px;font:18.20px/1 'Liberation Sans',sans-serif;color:#000;left:739.50px;">x10^6 CFU/ml</div>
<div class="r bar g1" style="top:1128.85px"></div>
<div class="r" style="left:875.60px;top:1139.15px;width:16.8px;height:16.8px;border-radius:50%;background:#000"></div>
<div class="t" style="top:1169.23px;font:bold 21.47px/1 'Liberation Sans',sans-serif;color:#000080;left:91.00px;letter-spacing:.12px;">Prevotella intermedia</div>
<div class="t" style="top:1168.31px;font:bold 23.85px/1 'Liberation Sans',sans-serif;color:#000;right:859.00px;">&lt;DL</div>
<div class="t" style="top:1167.03px;font:21.47px/1 'Liberation Sans',sans-serif;color:#000080;left:619.00px;">&lt; 5.00</div>
<div class="t" style="top:1169.09px;font:18.20px/1 'Liberation Sans',sans-serif;color:#000;left:739.50px;">x10^6 CFU/ml</div>
<div class="r bar g1" style="top:1164.00px"></div>
<div class="r" style="left:875.60px;top:1174.30px;width:16.8px;height:16.8px;border-radius:50%;background:#000"></div>
<div class="t" style="top:1204.38px;font:bold 21.47px/1 'Liberation Sans',sans-serif;color:#000080;left:91.00px;letter-spacing:.12px;">Streptococcus  mutans</div>
<div class="t" style="top:1203.46px;font:bold 23.85px/1 'Liberation Sans',sans-serif;color:#000;right:859.00px;">&lt;DL</div>
<div class="t" style="top:1202.18px;font:21.47px/1 'Liberation Sans',sans-serif;color:#000080;left:619.00px;">&lt; 1.00</div>
<div class="t" style="top:1204.24px;font:18.20px/1 'Liberation Sans',sans-serif;color:#000;left:739.50px;">x10^5 CFU/ml</div>
<div class="r bar g1" style="top:1199.15px"></div>
<div class="r" style="left:875.60px;top:1209.45px;width:16.8px;height:16.8px;border-radius:50%;background:#000"></div>
<div class="sec" style="top:1229.20px"><div class="t st">Pathogenic  Bacteria</div></div>
<div class="t" style="top:1282.63px;font:bold 21.47px/1 'Liberation Sans',sans-serif;color:#000080;left:91.00px;letter-spacing:.12px;">A. actinomycetemcomitans</div>
<div class="t" style="top:1281.71px;font:bold 23.85px/1 'Liberation Sans',sans-serif;color:#000;right:859.00px;">0.20</div>
<div class="t" style="top:1280.43px;font:21.47px/1 'Liberation Sans',sans-serif;color:#000080;left:619.00px;">&lt; 1.00</div>
<div class="t" style="top:1282.49px;font:18.20px/1 'Liberation Sans',sans-serif;color:#000;left:739.50px;">x10^5 CFU/ml</div>
<div class="r bar g1" style="top:1277.40px"></div>
<div class="r" style="left:875.60px;top:1287.70px;width:16.8px;height:16.8px;border-radius:50%;background:#000"></div>
<div class="t" style="top:1317.78px;font:bold 21.47px/1 'Liberation Sans',sans-serif;color:#000080;left:91.00px;letter-spacing:.12px;">Porphyromonas gingivalis</div>
<div class="t" style="top:1316.86px;font:bold 23.85px/1 'Liberation Sans',sans-serif;color:#000;right:859.00px;">&lt;DL</div>
<div class="t" style="top:1315.58px;font:21.47px/1 'Liberation Sans',sans-serif;color:#000080;left:619.00px;">&lt; 4.00</div>
<div class="t" style="top:1317.64px;font:18.20px/1 'Liberation Sans',sans-serif;color:#000;left:739.50px;">x10^6 CFU/ml</div>
<div class="r bar g1" style="top:1312.55px"></div>
<div class="r" style="left:875.60px;top:1322.85px;width:16.8px;height:16.8px;border-radius:50%;background:#000"></div>
<div class="t" style="top:1352.93px;font:bold 21.47px/1 'Liberation Sans',sans-serif;color:#000080;left:91.00px;letter-spacing:.12px;">Tannerella forsythia</div>
<div class="t" style="top:1352.01px;font:bold 23.85px/1 'Liberation Sans',sans-serif;color:#000;right:859.00px;">&lt;DL</div>
<div class="t" style="top:1350.73px;font:21.47px/1 'Liberation Sans',sans-serif;color:#000080;left:619.00px;">&lt; 3.00</div>
<div class="t" style="top:1352.79px;font:18.20px/1 'Liberation Sans',sans-serif;color:#000;left:739.50px;">x10^4 CFU/ml</div>
<div class="r bar g1" style="top:1347.70px"></div>
<div class="r" style="left:875.60px;top:1358.00px;width:16.8px;height:16.8px;border-radius:50%;background:#000"></div>
<div class="t" style="top:1388.08px;font:bold 21.47px/1 'Liberation Sans',sans-serif;color:#000080;left:91.00px;letter-spacing:.12px;">Treponema denticola</div>
<div class="t" style="top:1387.16px;font:bold 23.85px/1 'Liberation Sans',sans-serif;color:#000;right:859.00px;">0.07</div>
<div class="t" style="top:1385.88px;font:21.47px/1 'Liberation Sans',sans-serif;color:#000080;left:619.00px;">&lt; 2.00</div>
<div class="t" style="top:1387.94px;font:18.20px/1 'Liberation Sans',sans-serif;color:#000;left:739.50px;">x10^4 CFU/ml</div>
<div class="r bar g1" style="top:1382.85px"></div>
<div class="r" style="left:875.60px;top:1393.15px;width:16.8px;height:16.8px;border-radius:50%;background:#000"></div>
<div class="t" style="top:1423.23px;font:bold 21.47px/1 'Liberation Sans',sans-serif;color:#000080;left:91.00px;letter-spacing:.12px;">Staphylococcus  aureus</div>
<div class="t" style="top:1422.31px;font:bold 23.85px/1 'Liberation Sans',sans-serif;color:#000;right:859.00px;">&lt;DL</div>
<div class="t" style="top:1421.03px;font:21.47px/1 'Liberation Sans',sans-serif;color:#000080;left:619.00px;">&lt; 1.00</div>
<div class="t" style="top:1423.09px;font:18.20px/1 'Liberation Sans',sans-serif;color:#000;left:739.50px;">x10^5 CFU/ml</div>
<div class="r bar g1" style="top:1418.00px"></div>
<div class="r" style="left:875.60px;top:1428.30px;width:16.8px;height:16.8px;border-radius:50%;background:#000"></div>
<div class="t" style="top:1458.38px;font:bold 21.47px/1 'Liberation Sans',sans-serif;color:#000080;left:91.00px;letter-spacing:.12px;">Pseudomonas  aeruginosa</div>
<div class="t" style="top:1457.46px;font:bold 23.85px/1 'Liberation Sans',sans-serif;color:#000;right:859.00px;">&lt;DL</div>
<div class="t" style="top:1456.18px;font:21.47px/1 'Liberation Sans',sans-serif;color:#000080;left:619.00px;">&lt; 1.00</div>
<div class="t" style="top:1458.24px;font:18.20px/1 'Liberation Sans',sans-serif;color:#000;left:739.50px;">x10^6 CFU/ml</div>
<div class="r bar g1" style="top:1453.15px"></div>
<div class="r" style="left:875.60px;top:1463.45px;width:16.8px;height:16.8px;border-radius:50%;background:#000"></div>
<div class="t" style="top:1493.53px;font:bold 21.47px/1 'Liberation Sans',sans-serif;color:#000080;left:91.00px;letter-spacing:.12px;">Acinetobacter species</div>
<div class="t" style="top:1492.61px;font:bold 23.85px/1 'Liberation Sans',sans-serif;color:#000;right:859.00px;">&lt;DL</div>
<div class="t" style="top:1491.33px;font:21.47px/1 'Liberation Sans',sans-serif;color:#000080;left:619.00px;">&lt; 1.00</div>
<div class="t" style="top:1493.39px;font:18.20px/1 'Liberation Sans',sans-serif;color:#000;left:739.50px;">x10^4 CFU/ml</div>
<div class="r bar g1" style="top:1488.30px"></div>
<div class="r" style="left:875.60px;top:1498.60px;width:16.8px;height:16.8px;border-radius:50%;background:#000"></div>
<div class="t" style="top:1528.68px;font:bold 21.47px/1 'Liberation Sans',sans-serif;color:#000080;left:91.00px;letter-spacing:.12px;">Haemophilus species</div>
<div class="t" style="top:1527.76px;font:bold 23.85px/1 'Liberation Sans',sans-serif;color:#000;right:859.00px;">0.40</div>
<div class="t" style="top:1526.48px;font:21.47px/1 'Liberation Sans',sans-serif;color:#000080;left:619.00px;">&lt; 1.00</div>
<div class="t" style="top:1528.54px;font:18.20px/1 'Liberation Sans',sans-serif;color:#000;left:739.50px;">x10^8 CFU/ml</div>
<div class="r bar g1" style="top:1523.45px"></div>
<div class="r" style="left:875.60px;top:1533.75px;width:16.8px;height:16.8px;border-radius:50%;background:#000"></div>
<div class="sec" style="top:1554.30px"><div class="t st">Fungi</div></div>
<div class="t" style="top:1607.73px;font:bold 21.47px/1 'Liberation Sans',sans-serif;color:#000080;left:91.00px;letter-spacing:.12px;">Candida  albicans</div>
<div class="t" style="top:1606.81px;font:bold 23.85px/1 'Liberation Sans',sans-serif;color:#000;right:859.00px;">&lt;DL</div>
<div class="t" style="top:1605.53px;font:21.47px/1 'Liberation Sans',sans-serif;color:#000080;left:619.00px;">&lt; 1.00</div>
<div class="t" style="top:1607.59px;font:18.20px/1 'Liberation Sans',sans-serif;color:#000;left:739.50px;">x10^6 CFU/ml</div>
<div class="r bar g1" style="top:1602.50px"></div>
<div class="r" style="left:875.60px;top:1612.80px;width:16.8px;height:16.8px;border-radius:50%;background:#000"></div>
<div class="t" style="top:1642.88px;font:bold 21.47px/1 'Liberation Sans',sans-serif;color:#000080;left:91.00px;letter-spacing:.12px;">Candida  species</div>
<div class="t" style="top:1641.96px;font:bold 23.85px/1 'Liberation Sans',sans-serif;color:#000;right:859.00px;">&lt;DL</div>
<div class="t" style="top:1640.68px;font:21.47px/1 'Liberation Sans',sans-serif;color:#000080;left:619.00px;">&lt; 1.00</div>
<div class="t" style="top:1642.74px;font:18.20px/1 'Liberation Sans',sans-serif;color:#000;left:739.50px;">x10^6 CFU/ml</div>
<div class="r bar g1" style="top:1637.65px"></div>
<div class="r" style="left:875.60px;top:1647.95px;width:16.8px;height:16.8px;border-radius:50%;background:#000"></div>
<div class="sec" style="top:1667.70px"><div class="t st">Normal Oral Flora</div></div>
<div class="t" style="top:1721.13px;font:bold 21.47px/1 'Liberation Sans',sans-serif;color:#000080;left:91.00px;letter-spacing:.12px;">Streptococcus  salivarius</div>
<div class="t" style="top:1720.21px;font:bold 23.85px/1 'Liberation Sans',sans-serif;color:#000;right:859.00px;">5.80</div>
<div class="t" style="top:1718.93px;font:21.47px/1 'Liberation Sans',sans-serif;color:#000080;left:619.00px;">&gt; 5.00</div>
<div class="t" style="top:1720.99px;font:18.20px/1 'Liberation Sans',sans-serif;color:#000;left:739.50px;">x10^7 CFU/ml</div>
<div class="r bar g2" style="top:1715.90px"></div>
<div class="r" style="left:1121.60px;top:1726.20px;width:16.8px;height:16.8px;border-radius:50%;background:#000"></div>
<div class="t" style="top:1756.28px;font:bold 21.47px/1 'Liberation Sans',sans-serif;color:#000080;left:91.00px;letter-spacing:.12px;">Lactobacillus  species</div>
<div class="t" style="top:1755.36px;font:bold 23.85px/1 'Liberation Sans',sans-serif;color:#000;right:859.00px;">2.55</div>
<div class="t" style="top:1754.08px;font:21.47px/1 'Liberation Sans',sans-serif;color:#000080;left:619.00px;">&gt; 1.00</div>
<div class="t" style="top:1756.14px;font:18.20px/1 'Liberation Sans',sans-serif;color:#000;left:739.50px;">x10^5 CFU/ml</div>
<div class="r bar g2" style="top:1751.05px"></div>
<div class="r" style="left:1277.00px;top:1761.35px;width:16.8px;height:16.8px;border-radius:50%;background:#000"></div>
<div class="r" style="left:65.20px;top:2204.40px;width:1306.60px;height:28.20px;background:#000080;"></div>
<div class="t" style="top:2208.01px;font:bold 21.50px/1 'DejaVu Sans','Liberation Sans',sans-serif;color:#fff;left:66.00px;">Page 1 of 2</div>
<div class="t" style="top:2208.01px;font:bold 21.50px/1 'DejaVu Sans','Liberation Sans',sans-serif;color:#fff;left:319.70px;width:800px;text-align:center;">Final Report</div>
<div class="t" style="top:2208.01px;font:bold 21.50px/1 'DejaVu Sans','Liberation Sans',sans-serif;color:#fff;right:94.00px;letter-spacing:.14px;">Printed:April 24, 2024</div>
<div class="r" style="left:70px;top:2784.5px;width:1261.6px;height:39px;background:#000080;overflow:hidden"><div class="t" style="left:.6px;top:10px;font:bold 23.8px/1 'DejaVu Sans',sans-serif;color:#fff">Comment</div></div>
<!-- iOS chrome -->
<div class="r" style="left:0;top:0;width:1440px;height:335px;background:#535353"></div>
<div class="r" style="left:0;top:335px;width:1440px;height:3px;background:linear-gradient(#6a6a6a,#bdbdbd)"></div>
<div class="t" style="left:98px;top:64px;font:57px/1 'Liberation Sans',sans-serif;color:#fff;-webkit-text-stroke:1.7px #fff;transform:scaleX(1.15);transform-origin:0 0">6:53</div>
<svg class="r" style="left:236px;top:66px" width="50" height="50" viewBox="0 0 50 50"><path d="M20 3.6 A22.5 22.5 0 1 0 46.5 32.8 A20.3 20.3 0 0 1 20 3.6z" fill="#fff"/></svg>
<div class="r" style="left:1116px;top:97.5px;width:11px;height:14.5px;border-radius:3px;background:#fff"></div>
<div class="r" style="left:1133.5px;top:90px;width:11px;height:22px;border-radius:3px;background:#fff"></div>
<div class="r" style="left:1151px;top:80.5px;width:11px;height:31.5px;border-radius:3px;background:#fff"></div>
<div class="r" style="left:1168.5px;top:70px;width:11px;height:42px;border-radius:3px;background:#fff"></div>
<div class="t" style="left:1200px;top:72px;font:45px/1 'Liberation Sans',sans-serif;color:#fff;-webkit-text-stroke:.7px #fff;transform:scaleX(1.03);transform-origin:0 0">4G</div>
<div class="r" style="left:1279.5px;top:68px;width:83.5px;height:46px;border-radius:13px;background:#fff"></div>
<div class="r" style="left:1366.5px;top:84.5px;width:6px;height:13px;border-radius:0 5px 5px 0;background:#a9a9a9"></div>
<div class="t" style="left:1294.5px;top:71.5px;font:bold 40px/1 'Liberation Sans',sans-serif;color:#4a4a4a;letter-spacing:2px;transform:scaleX(1.14);transform-origin:0 0">99</div>
<div class="t" style="left:59.5px;top:223px;color:#fff;font:64px/1 'Liberation Sans',sans-serif;-webkit-text-stroke:2.2px #fff;transform-origin:0 0;transform:scaleX(0.94);letter-spacing:-0.45px">PARISIO</div>
<div class="t" style="left:320.8px;top:223px;color:#fff;font:64px/1 'Liberation Sans',sans-serif;-webkit-text-stroke:2.2px #fff;transform-origin:0 0;transform:scaleX(0.93);letter-spacing:-0.42px">ANDREA</div>
<div class="t" style="left:589.4px;top:223px;color:#fff;font:64px/1 'Liberation Sans',sans-serif;-webkit-text-stroke:2.2px #fff;transform-origin:0 0;transform:scaleX(1.0);letter-spacing:-0.13px">3977018</div>
<div class="t" style="left:866.3px;top:223px;color:#fff;font:64px/1 'Liberation Sans',sans-serif;-webkit-text-stroke:2.2px #fff;transform-origin:0 0;transform:scaleX(1.0);letter-spacing:0.4px">MU</div>
<div class="t" style="left:967.8px;top:223px;color:#fff;font:64px/1 'Liberation Sans',sans-serif;-webkit-text-stroke:2.2px #fff;transform-origin:0 0;transform:scaleX(1.0);letter-spacing:-1.0px">...</div>
<div class="r" style="left:1078px;top:223.5px;width:62px;height:62px;border-radius:50%;background:#666"></div>
<svg class="r" style="left:1078px;top:223.5px" width="62" height="62" viewBox="0 0 62 62"><path d="M17 25 L31 39 L45 25" fill="none" stroke="#b4b4b4" stroke-width="5.5" stroke-linecap="round" stroke-linejoin="round"/></svg>
<div class="t" style="left:1226.8px;top:223.4px;font:61.5px/1 'Liberation Sans',sans-serif;color:#0a84ff;-webkit-text-stroke:2.4px #0a84ff;letter-spacing:2.6px">Done</div>
<!-- bottom toolbar -->
<div class="r" style="left:0;top:2808.5px;width:1440px;height:308px;background:linear-gradient(#4f4f54 0,#535356 25%,#545455 50%,#535353 70%)"></div>
<svg class="r" style="left:0;top:2809px" width="1440" height="307" viewBox="0 2809 1440 307" fill="none" stroke="#0a84ff" stroke-linecap="round" stroke-linejoin="round">
<!-- share -->
<path d="M89.5 2889.3H80a8.5 8.5 0 0 0-8.5 8.5V2939.8a8.5 8.5 0 0 0 8.5 8.5H128a8.5 8.5 0 0 0 8.5-8.5V2897.8a8.5 8.5 0 0 0-8.5-8.5H117.5" stroke-width="4.8"/>
<path d="M103.7 2919V2865M88.5 2878.5L103.7 2863.5L119 2878.5" stroke-width="4.8"/>
<!-- search -->
<circle cx="490.8" cy="2901.2" r="28.6" stroke-width="5.6"/>
<path d="M512 2922.5L531.5 2944" stroke-width="7.5"/>
<!-- markup -->
<circle cx="895.6" cy="2909.3" r="37.4" stroke-width="4.4"/>
<path d="M880.5 2942L895.6 2890L910.7 2942M886.5 2914H904.7" stroke-width="5"/>
<path d="M895.6 2888.5L904 2914H887.2z" fill="#0a84ff" stroke-width="3"/>
<!-- form -->
<path d="M1330 2893.3H1265.5a8 8 0 0 0-8 8V2933a8 8 0 0 0 8 8H1342.5a8 8 0 0 0 8-8V2906" stroke-width="4.6"/>
<circle cx="1274.4" cy="2918.2" r="4.6" fill="#0a84ff" stroke="none"/>
<circle cx="1291.6" cy="2918.2" r="4.6" fill="#0a84ff" stroke="none"/>
<circle cx="1308.3" cy="2918.2" r="4.6" fill="#0a84ff" stroke="none"/>
<path d="M1326 2915L1360.5 2880.5" stroke-width="7.2" stroke-linecap="butt"/>
<path d="M1321.5 2919.5L1327 2914" stroke-width="3.5"/>
<path d="M1364 2877L1366.8 2874.2" stroke-width="7.2" stroke-linecap="round"/>
</svg>
<div class="r" style="left:464px;top:3067.7px;width:513px;height:19.2px;border-radius:10px;background:#efefef"></div>

</body></html>
